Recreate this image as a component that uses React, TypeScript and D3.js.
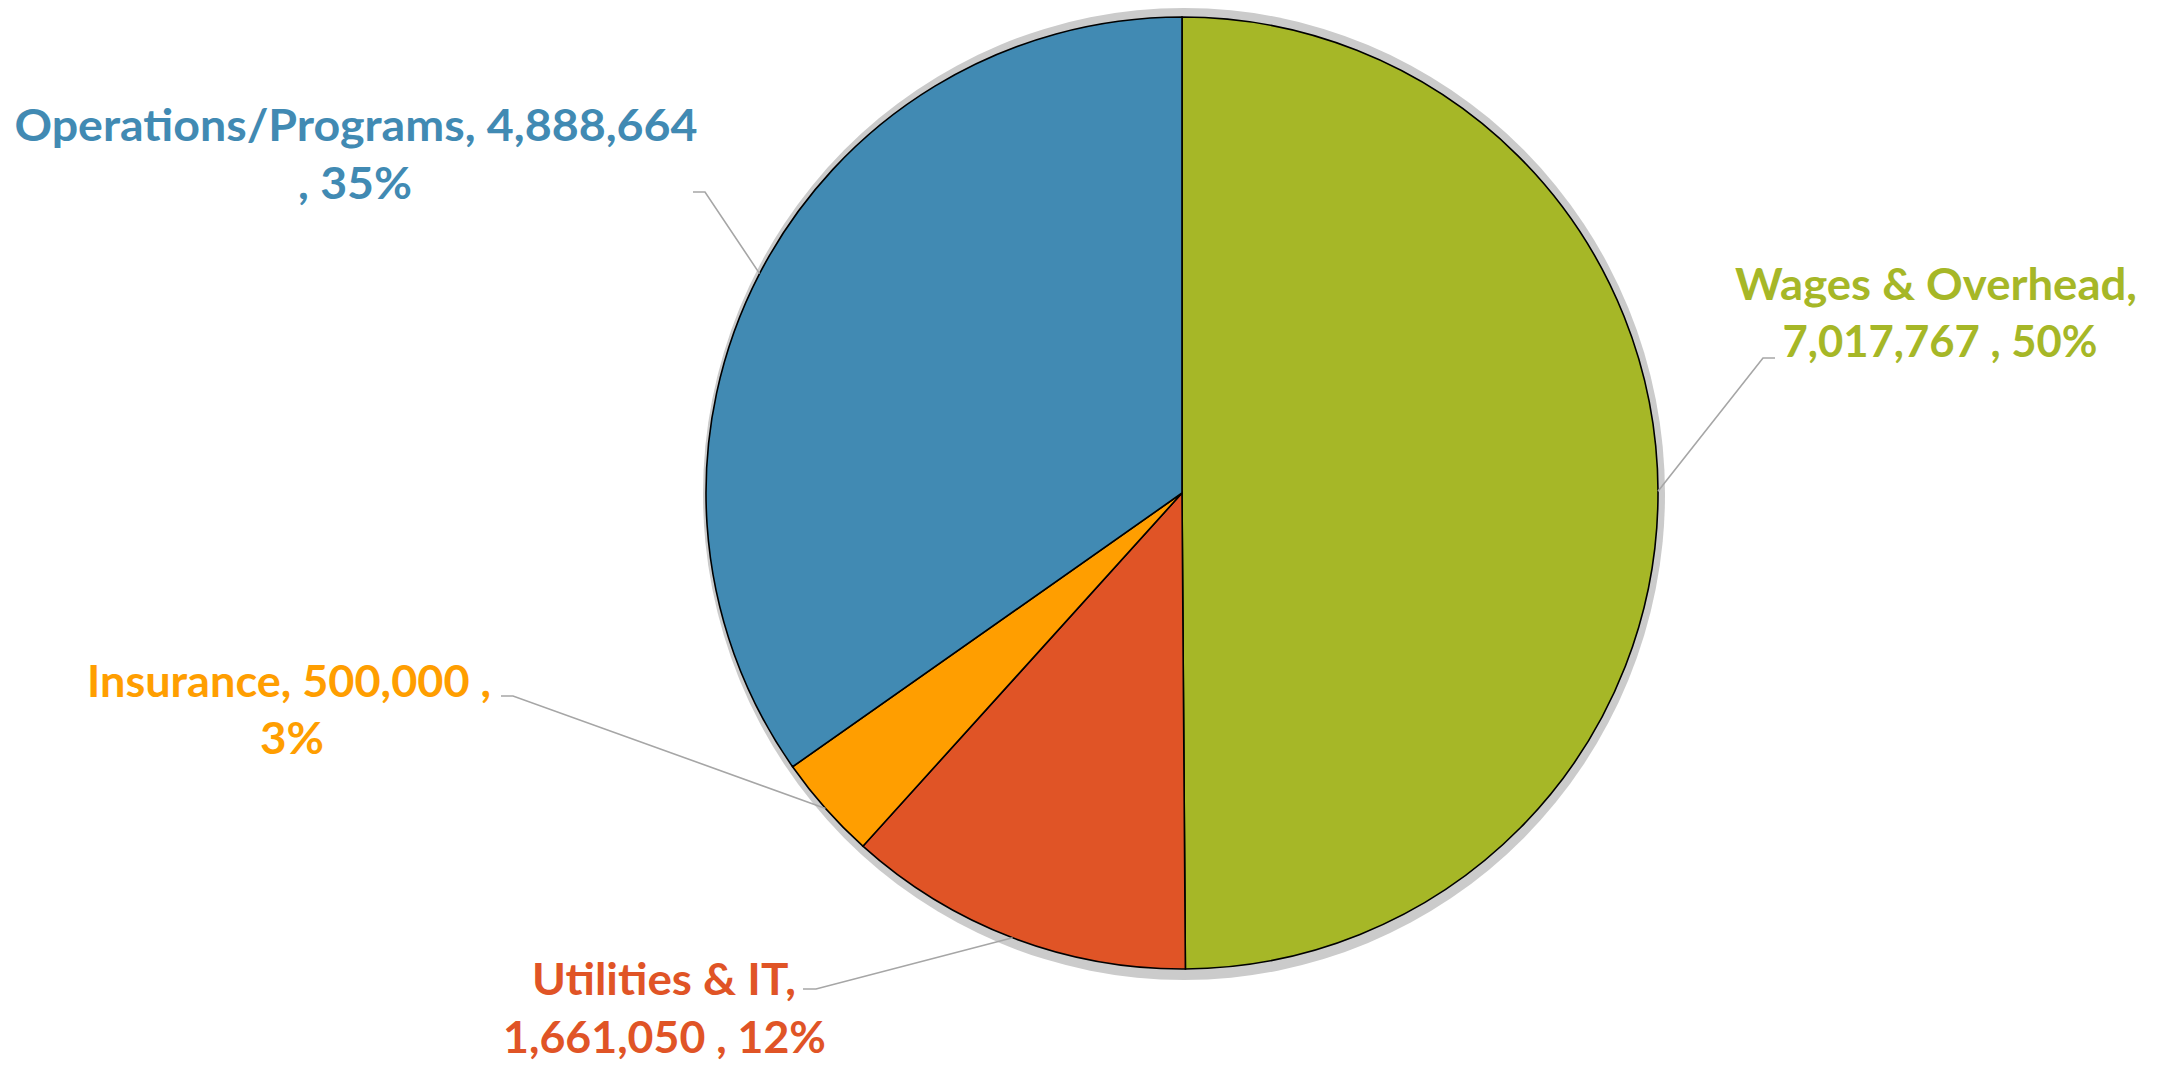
import React from "react";
import * as d3 from "d3";

const categories = ["Wages & Overhead", "Utilities & IT", "Insurance", "Operations/Programs"];
const values = [7017767, 1661050, 500000, 4888664];
const percentLabels = ["50%", "12%", "3%", "35%"];
const colors = ["#A6B727", "#E05426", "#FF9E00", "#418AB3"];

// label layout (positions only)
const labelLayout = [
  { words1: 3, cx: [1936, 1940], base: [300, 357], len: [402, 315], elbow: [1763, 358], end: [1775, 358] },
  { words1: 3, cx: [664, 664.5], base: [995, 1053], len: [264, 323], elbow: [816, 989], end: [803, 989] },
  { words1: 3, cx: [289, 292], base: [697, 754], len: [404, 64], elbow: [513, 696], end: [501, 696] },
  { words1: 2, cx: [356, 355], base: [141, 199], len: [683, 114], elbow: [705, 192], end: [693, 192] },
];

const W = 2159;
const H = 1067;
const CX = 1182;
const CY = 493;
const R = 476;

export default function App() {
  const pie = d3.pie<number>().sort(null).value((d) => d).startAngle(0).endAngle(2 * Math.PI);
  const arcs = pie(values);
  const arcGen = d3.arc<d3.PieArcDatum<number>>().innerRadius(0).outerRadius(R);
  const edge = d3.arc<d3.PieArcDatum<number>>().innerRadius(R).outerRadius(R);
  const fmt = d3.format(",");

  return (
    <svg
      width={W}
      height={H}
      style={{ position: "absolute", left: 0, top: 0, background: "#fff" }}
      fontFamily="Lato, 'Open Sans', sans-serif"
    >
      <ellipse cx={CX + 2} cy={CY + 1} rx={R + 5} ry={R + 10} fill="#cbcbcb" />
      <g transform={`translate(${CX},${CY})`}>
        {arcs.map((a, i) => (
          <path key={i} d={arcGen(a) || ""} fill={colors[i]} stroke="#000" strokeWidth={1.6} />
        ))}
      </g>
      {arcs.map((a, i) => {
        const L = labelLayout[i];
        const c = edge.centroid(a);
        const sx = CX + c[0];
        const sy = CY + c[1];
        return (
          <polyline
            key={"l" + i}
            points={`${sx},${sy} ${L.elbow[0]},${L.elbow[1]} ${L.end[0]},${L.end[1]}`}
            fill="none"
            stroke="#a6a6a6"
            strokeWidth={1.6}
          />
        );
      })}
      {categories.map((cat, i) => {
        const L = labelLayout[i];
        const full = `${cat}, ${fmt(values[i])} , ${percentLabels[i]}`;
        const words = full.split(" ");
        const lines = [words.slice(0, L.words1).join(" "), words.slice(L.words1).join(" ")];
        return (
          <g key={"t" + i} fill={colors[i]} fontWeight={700} fontSize={43}>
            {lines.map((ln, j) => (
              <text
                key={j}
                x={L.cx[j]}
                y={L.base[j]}
                textAnchor="middle"
                textLength={L.len[j]}
                lengthAdjust="spacingAndGlyphs"
              >
                {ln}
              </text>
            ))}
          </g>
        );
      })}
    </svg>
  );
}
